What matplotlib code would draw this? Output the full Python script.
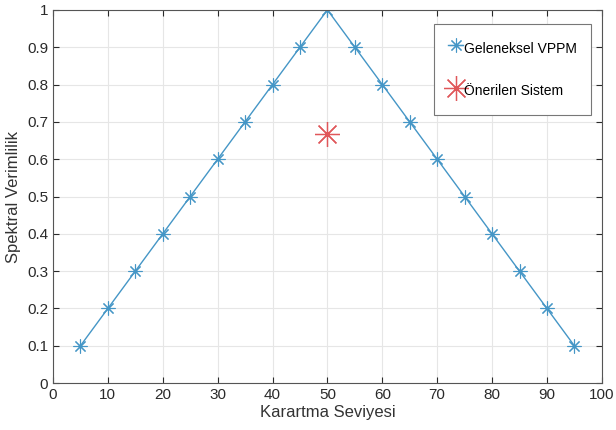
import matplotlib.pyplot as plt

plt.rcParams['font.family'] = ['Liberation Sans', 'DejaVu Sans']

# dimming levels and spectral efficiency of conventional VPPM
dimming = [5, 10, 15, 20, 25, 30, 35, 40, 45, 50, 55, 60, 65, 70, 75, 80, 85, 90, 95]
vppm_eff = [0.1, 0.2, 0.3, 0.4, 0.5, 0.6, 0.7, 0.8, 0.9, 1.0,
            0.9, 0.8, 0.7, 0.6, 0.5, 0.4, 0.3, 0.2, 0.1]

# proposed system operating point
proposed_dim = [50]
proposed_eff = [0.667]

asterisk = (8, 2, 0)

fig = plt.figure(figsize=(6.16, 4.30), dpi=100)
ax = fig.add_axes([0.086, 0.109, 0.891, 0.868])

ax.plot(dimming, vppm_eff, color='#4596c6', linewidth=1.0, marker=asterisk,
        markersize=10, markeredgewidth=0.8, label='Geleneksel VPPM')
ax.plot(proposed_dim, proposed_eff, linestyle='none', color='#e0575a', marker=asterisk,
        markersize=18, markeredgewidth=0.9, label='Önerilen Sistem')

ax.set_xlim(0, 100)
ax.set_ylim(0, 1)
ax.set_xticks(range(0, 101, 10))
ax.set_yticks([i / 10 for i in range(11)])
ax.set_yticklabels(['0', '0.1', '0.2', '0.3', '0.4', '0.5', '0.6', '0.7', '0.8', '0.9', '1'])
ax.grid(True, color='#e6e6e6', linewidth=0.8)
ax.tick_params(direction='in', length=4, labelsize=11, colors='#2a2a2a', top=True, right=True)
for side in ax.spines.values():
    side.set_color('#555555')
    side.set_linewidth(0.8)

ax.set_xlabel('Karartma Seviyesi', fontsize=12, color='#333333', labelpad=2)
ax.set_ylabel('Spektral Verimlilik', fontsize=12, color='#333333', labelpad=4)

leg = ax.legend(loc='upper right', bbox_to_anchor=(0.980, 0.9625), borderaxespad=0,
                fontsize=10, handlelength=1.1, handleheight=2.0, handletextpad=0.05,
                labelspacing=1.5, borderpad=1.0, fancybox=False, framealpha=1,
                edgecolor='#777777')
leg.get_frame().set_linewidth(0.8)

fig.savefig('out.png', dpi=100)
